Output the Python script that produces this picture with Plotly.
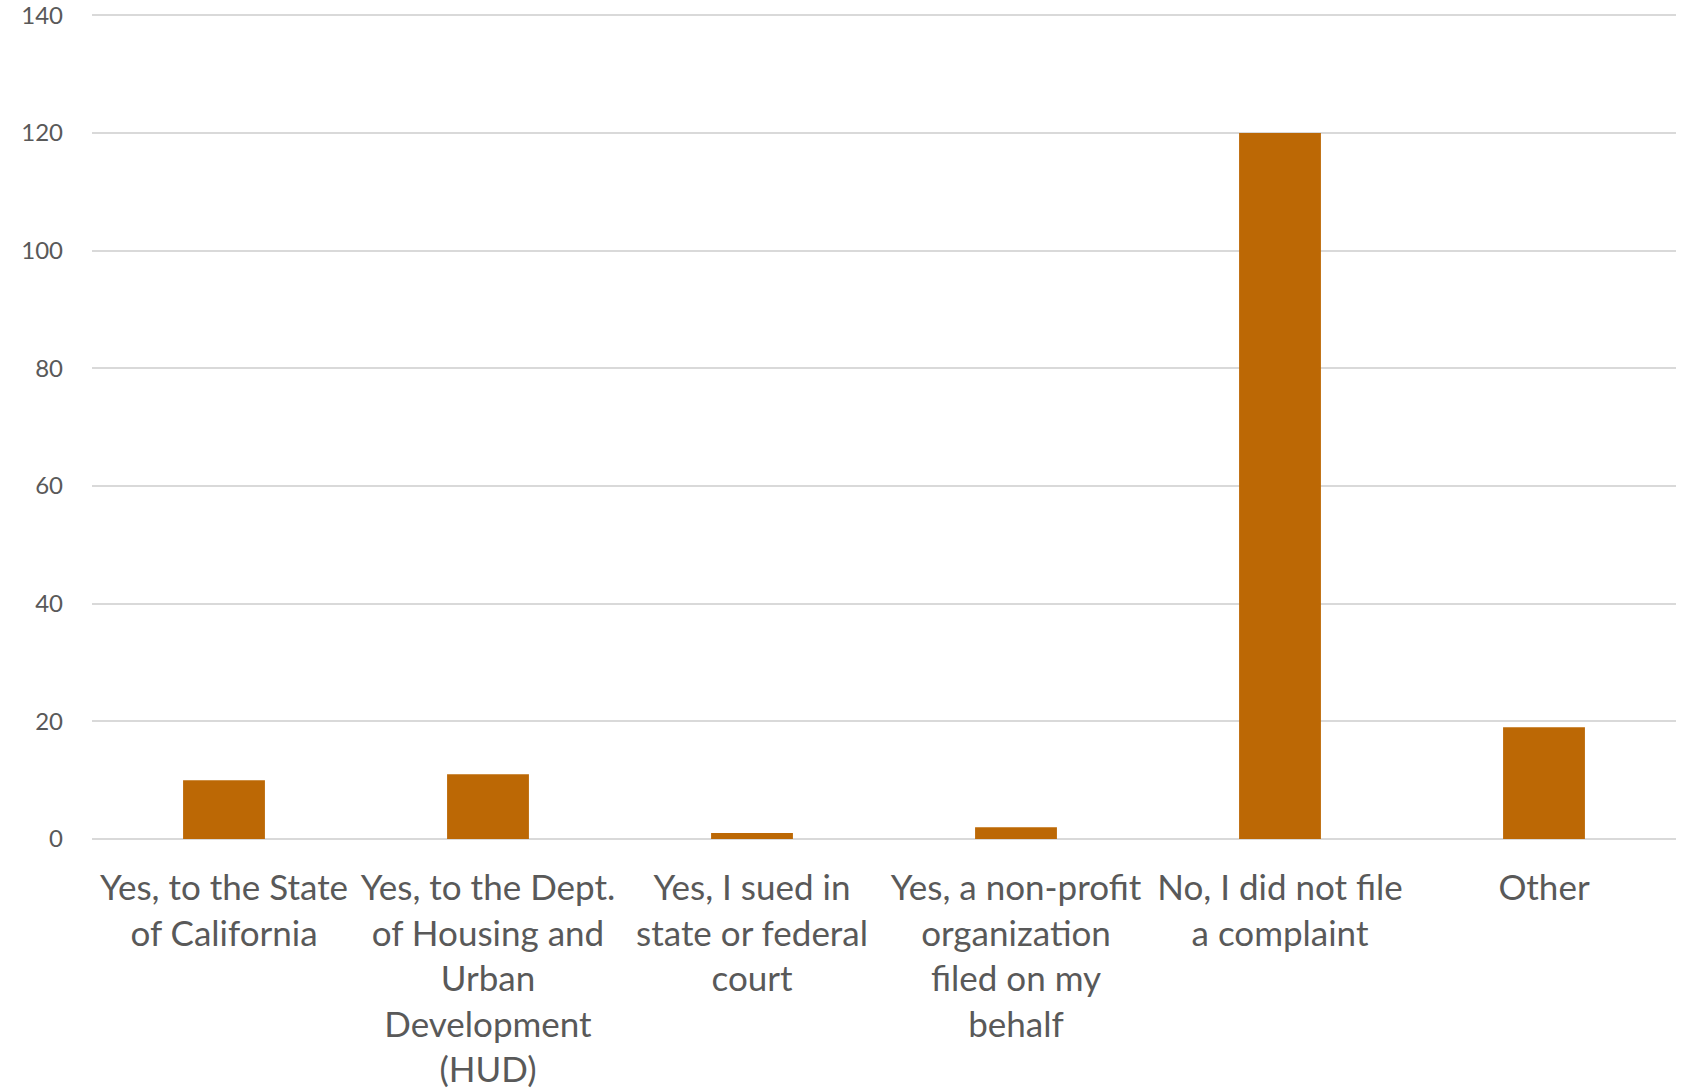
import plotly.graph_objects as go

categories = [
    "Yes, to the State<br>of California",
    "Yes, to the Dept.<br>of Housing and<br>Urban<br>Development<br>(HUD)",
    "Yes, I sued in<br>state or federal<br>court",
    "Yes, a non-profit<br>organization<br>filed on my<br>behalf",
    "No, I did not file<br>a complaint",
    "Other",
]
values = [10, 11, 1, 2, 120, 19]
y_ticks = [0, 20, 40, 60, 80, 100, 120, 140]

fig = go.Figure(
    go.Bar(x=categories, y=values, marker=dict(color="#BC6805", line=dict(width=0)))
)
fig.update_layout(
    width=1688, height=1088,
    margin=dict(l=92, r=12, t=13, b=249),
    plot_bgcolor="white", paper_bgcolor="white",
    bargap=0.69,
    showlegend=False,
    font=dict(family="Lato", color="#595959"),
)
fig.update_xaxes(
    showgrid=False, showline=False, ticks="",
    tickfont=dict(size=35, color="#595959"), tickangle=0,
    ticklabelstandoff=25, automargin=False,
)
fig.update_yaxes(
    range=[0, 140.4], tickvals=y_ticks, showgrid=True, gridcolor="#d9d9d9", gridwidth=1.5,
    zeroline=True, zerolinecolor="#d9d9d9", zerolinewidth=1.5,
    showline=False, ticks="", tickfont=dict(size=24, color="#595959"),
    ticklabelstandoff=28, ticklabeloverflow="allow", automargin=False,
)
fig.write_html("out.html")
